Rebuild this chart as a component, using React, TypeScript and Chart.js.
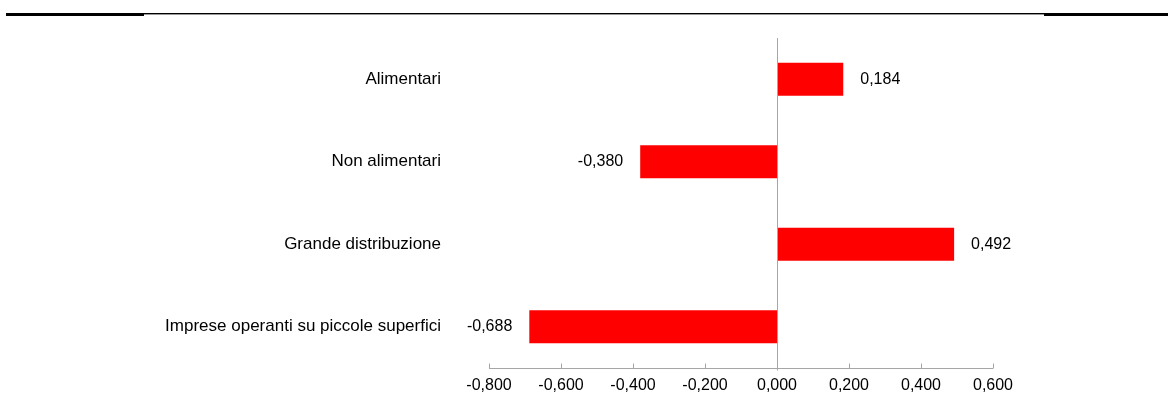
import React, { useEffect, useRef } from "react";
import { Chart, registerables } from "chart.js";

Chart.register(...registerables);

const categories = [
  "Alimentari",
  "Non alimentari",
  "Grande distribuzione",
  "Imprese operanti su piccole superfici",
];
const values = [0.184, -0.38, 0.492, -0.688];
const tickValues = [-0.8, -0.6, -0.4, -0.2, 0, 0.2, 0.4, 0.6];

const FONT = "'Liberation Sans', Arial, sans-serif";
const fmt = (v: number) => v.toFixed(3).replace(".", ",");

export default function App() {
  const ref = useRef<HTMLCanvasElement | null>(null);

  useEffect(() => {
    document.body.style.margin = "0";
    const canvas = ref.current!;
    const decor = {
      id: "decor",
      afterDraw(chart: any) {
        const ctx = chart.ctx;
        const xs = chart.scales.x;
        const ys = chart.scales.y;
        const area = chart.chartArea;
        ctx.save();
        // top rule lines
        ctx.fillStyle = "#000";
        ctx.fillRect(6, 13, 138, 3);
        ctx.fillRect(144, 13, 900, 1.4);
        ctx.fillRect(1044, 13, 124, 3);
        // x axis line and inside ticks
        ctx.strokeStyle = "#a6a6a6";
        ctx.lineWidth = 1;
        ctx.beginPath();
        const yb = Math.round(area.bottom) + 0.5;
        ctx.moveTo(xs.getPixelForValue(tickValues[0]), yb);
        ctx.lineTo(xs.getPixelForValue(tickValues[tickValues.length - 1]), yb);
        tickValues.forEach((t) => {
          const px = Math.round(xs.getPixelForValue(t)) + 0.5;
          ctx.moveTo(px, yb);
          ctx.lineTo(px, yb - 5);
        });
        // zero line
        const z = Math.round(xs.getPixelForValue(0)) + 0.5;
        ctx.moveTo(z, area.top);
        ctx.lineTo(z, yb + 2);
        ctx.stroke();
        // value labels
        ctx.fillStyle = "#000";
        ctx.font = `16px ${FONT}`;
        ctx.textBaseline = "middle";
        values.forEach((v, i) => {
          const px = xs.getPixelForValue(v);
          const py = ys.getPixelForValue(i);
          if (v >= 0) {
            ctx.textAlign = "left";
            ctx.fillText(fmt(v), px + 17, py);
          } else {
            ctx.textAlign = "right";
            ctx.fillText(fmt(v), px - 17, py);
          }
        });
        ctx.restore();
      },
    };

    const chart = new Chart(canvas, {
      type: "bar",
      data: {
        labels: categories,
        datasets: [
          {
            data: values,
            backgroundColor: "#ff0000",
            borderWidth: 0,
            barPercentage: 0.4,
            categoryPercentage: 1,
          },
        ],
      },
      plugins: [decor],
      options: {
        indexAxis: "y",
        animation: false,
        responsive: false,
        devicePixelRatio: 1,
        layout: { padding: { top: 38, right: 175, bottom: 0, left: 0 } },
        plugins: { legend: { display: false }, tooltip: { enabled: false } },
        scales: {
          x: {
            min: -0.8,
            max: 0.6,
            afterBuildTicks: (s: any) => {
              s.ticks = tickValues.map((v) => ({ value: v }));
            },
            afterFit: (s: any) => {
              s.height = 40;
              s.paddingLeft = 0;
              s.paddingRight = 0;
            },
            grid: { display: false },
            border: { display: false },
            ticks: {
              color: "#000",
              padding: 0,
              maxRotation: 0,
              font: { family: FONT, size: 16 },
              callback: (v: any) => fmt(Number(v)),
            },
          },
          y: {
            afterFit: (s: any) => {
              s.width = 489;
              s.paddingTop = 0;
              s.paddingBottom = 0;
            },
            grid: {
              display: true,
              drawOnChartArea: false,
              drawTicks: true,
              tickLength: 48,
              tickColor: "rgba(0,0,0,0)",
            },
            border: { display: false },
            ticks: {
              color: "#000",
              padding: 0,
              font: { family: FONT, size: 17 },
            },
          },
        },
      },
    });
    return () => chart.destroy();
  }, []);

  return <canvas ref={ref} width={1168} height={408} style={{ display: "block" }} />;
}
